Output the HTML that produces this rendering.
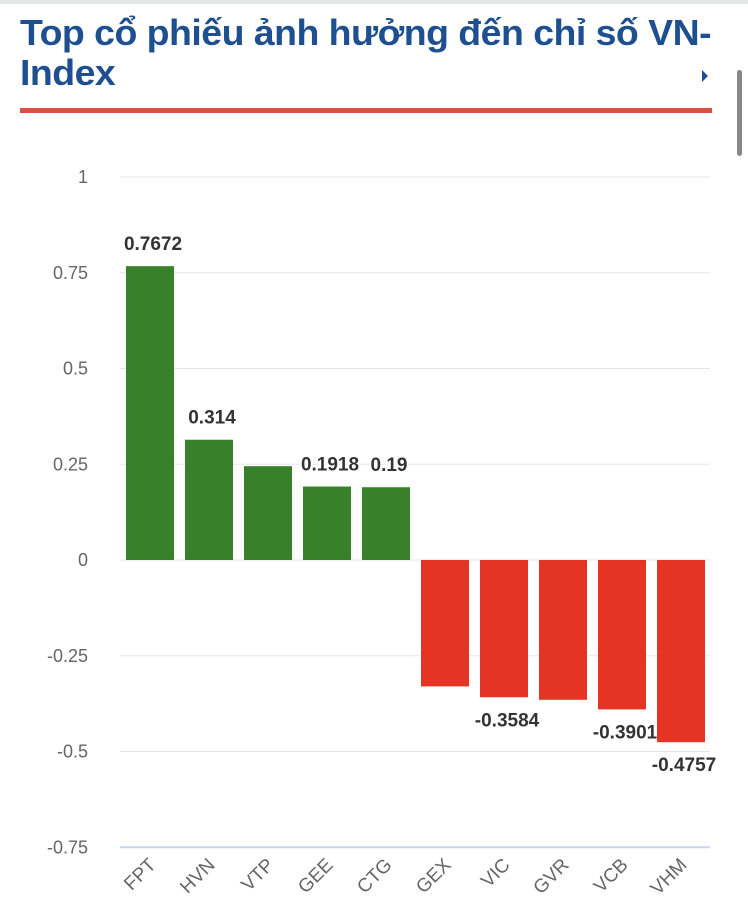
<!DOCTYPE html>
<html><head><meta charset="utf-8">
<style>
body{margin:0;width:748px;height:922px;background:#fff;overflow:hidden;font-family:"Liberation Sans",sans-serif;position:relative}
#topline{position:absolute;left:0;top:0;width:748px;height:4px;background:#e4e6ea}
#title{position:absolute;left:20px;top:13px;font-size:36px;font-weight:bold;line-height:40px;color:#1d4f91;letter-spacing:-0.5px;transform:scaleX(1.04);transform-origin:left top;width:780px;white-space:nowrap}
#arrow{position:absolute;left:702px;top:70px;width:0;height:0;border-top:6px solid transparent;border-bottom:6px solid transparent;border-left:6px solid #1d4f91}
#rule{position:absolute;left:20px;top:108px;width:692px;height:5px;background:#dc5042}
#scroll{position:absolute;left:737px;top:70px;width:5px;height:86px;border-radius:3px;background:#888}
svg{position:absolute;left:0;top:0}
</style></head><body>
<div id="topline"></div>
<div id="title">Top cổ phiếu ảnh hưởng đến chỉ số VN-<br>Index</div>
<div id="arrow"></div>
<div id="rule"></div>
<div id="scroll"></div>
<svg id="chart" width="748" height="922"></svg>
<script>
const categories=["FPT","HVN","VTP","GEE","CTG","GEX","VIC","GVR","VCB","VHM"];
const values=[0.7672,0.314,0.245,0.1918,0.19,-0.33,-0.3584,-0.365,-0.3901,-0.4757];
const printed=["0.7672","0.314","","0.1918","0.19","","-0.3584","","-0.3901","-0.4757"];
const ticks=[1,0.75,0.5,0.25,0,-0.25,-0.5,-0.75];
const tickLabels=["1","0.75","0.5","0.25","0","-0.25","-0.5","-0.75"];
const NS="http://www.w3.org/2000/svg";
const svg=document.getElementById('chart');
const y=v=>560-v*383;
const x0=120,step=59,bw=48;
const xc=i=>x0+step*i+step/2+0.5;
function mk(t,a){const e=document.createElementNS(NS,t);for(const k in a)e.setAttribute(k,a[k]);svg.appendChild(e);return e;}
ticks.forEach((t,i)=>{
  const l=mk('line',{x1:120,x2:710,y1:y(t),y2:y(t),stroke:t===-0.75?'#ccd6eb':'#e6e6e6','stroke-width':t===-0.75?2:1});
  
  
  const tx=mk('text',{x:88,y:y(t)+6,'text-anchor':'end','font-size':18,fill:'#666'});
  tx.textContent=tickLabels[i];
  
  
});
categories.forEach((c,i)=>{
  const v=values[i];
  const r=mk('rect',{x:xc(i)-bw/2,y:Math.min(y(v),y(0)),width:bw,height:Math.abs(y(v)-y(0)),fill:v>=0?'#38812a':'#e53424'});
  
  
  if(printed[i]){
    const t=mk('text',{x:xc(i)+3,y:v>=0?y(v)-16:y(v)+29,'text-anchor':'middle','font-size':19,'font-weight':'bold',fill:'#333',stroke:'#fff','stroke-width':3,'paint-order':'stroke'});
    t.textContent=printed[i];
    
    
  }
  const lx=xc(i)+7,ly=866;
  const t=mk('text',{x:lx,y:ly,'text-anchor':'end','font-size':19,fill:'#666',transform:`rotate(-45 ${lx} ${ly})`});
  t.textContent=c;
  
  
});
</script>
</body></html>
